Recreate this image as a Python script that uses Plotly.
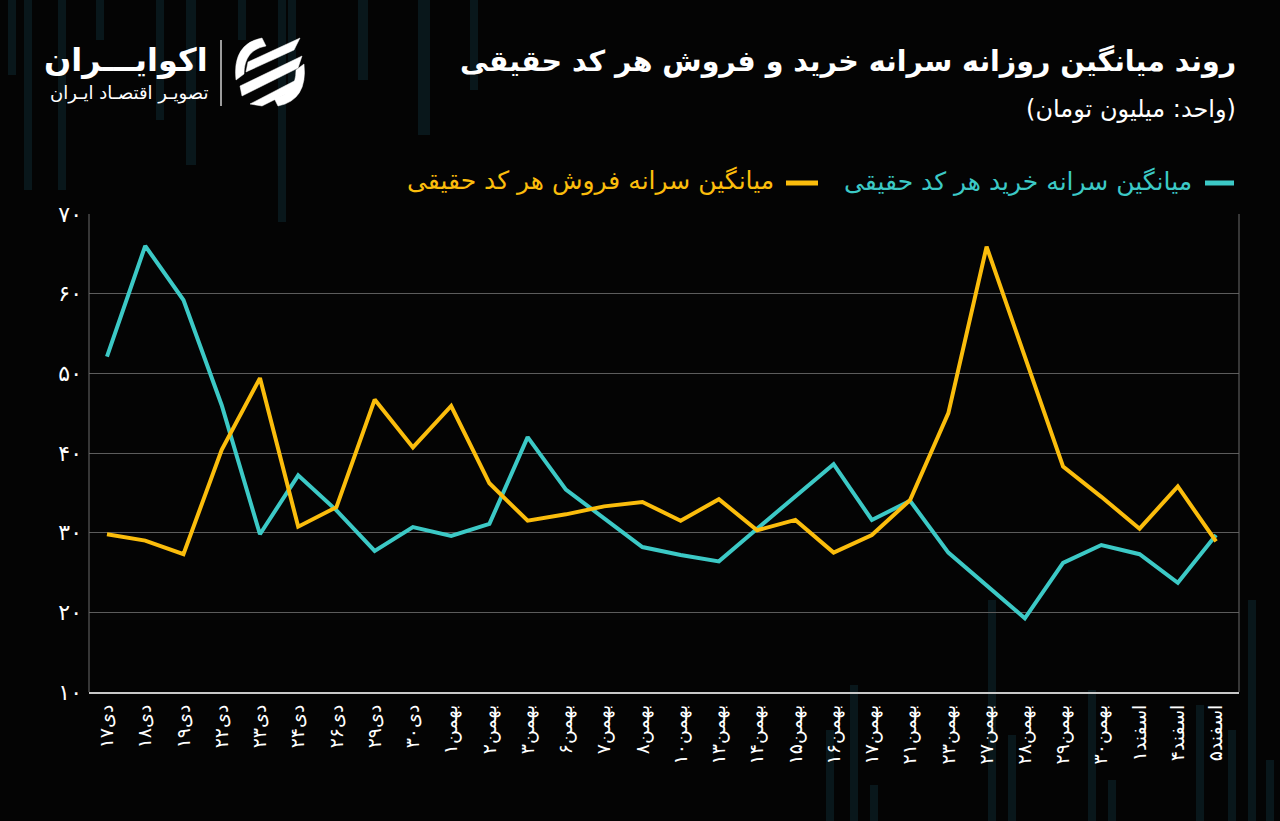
import plotly.graph_objects as go

# ---------------- data ----------------
categories = [
    "دی۱۷", "دی۱۸", "دی۱۹", "دی۲۲", "دی۲۳", "دی۲۴", "دی۲۶", "دی۲۹", "دی۳۰",
    "بهمن۱", "بهمن۲", "بهمن۳", "بهمن۶", "بهمن۷", "بهمن۸", "بهمن۱۰", "بهمن۱۳",
    "بهمن۱۴", "بهمن۱۵", "بهمن۱۶", "بهمن۱۷", "بهمن۲۱", "بهمن۲۳", "بهمن۲۷",
    "بهمن۲۸", "بهمن۲۹", "بهمن۳۰", "اسفند۱", "اسفند۴", "اسفند۵",
]
buy_avg = [
    52.1, 66.0, 59.2, 46.0, 29.8, 37.2, 32.8, 27.7, 30.7, 29.6,
    31.1, 42.0, 35.4, 31.8, 28.2, 27.2, 26.4, 30.5, 34.5, 38.6,
    31.6, 34.0, 27.5, 23.4, 19.25, 26.2, 28.45, 27.3, 23.7, 29.7,
]
sell_avg = [
    29.8, 29.0, 27.3, 40.4, 49.4, 30.75, 33.2, 46.7, 40.7, 45.9,
    36.2, 31.5, 32.3, 33.3, 33.85, 31.5, 34.2, 30.3, 31.6, 27.5,
    29.7, 34.1, 45.0, 65.9, 52.1, 38.3, 34.5, 30.5, 35.8, 28.9,
]
y_tick_values = [10, 20, 30, 40, 50, 60, 70]
y_tick_labels = ["۱۰", "۲۰", "۳۰", "۴۰", "۵۰", "۶۰", "۷۰"]

title_text = "روند میانگین روزانه سرانه خرید و فروش هر کد حقیقی"
subtitle_text = "(واحد: میلیون تومان)"
buy_name = "میانگین سرانه خرید هر کد حقیقی"
sell_name = "میانگین سرانه فروش هر کد حقیقی"
brand_name = "اکوایـــران"
brand_sub = "تصویـر اقتصـاد ایـران"

# ---------------- styling ----------------
BG = "#040404"
CYAN = "#3CC9C6"
YELLOW = "#FBBD0C"
FONT = "DejaVu Sans"

W, H = 1280, 821
L, R, T, B = 89, 1239, 214, 692


def px(x):
    return (x - L) / (R - L)


def py(y):
    return (B - y) / (B - T)


fig = go.Figure()
fig.add_trace(go.Scatter(x=categories, y=buy_avg, mode="lines", name=buy_name,
                         line=dict(color=CYAN, width=4), showlegend=False))
fig.add_trace(go.Scatter(x=categories, y=sell_avg, mode="lines", name=sell_name,
                         line=dict(color=YELLOW, width=4), showlegend=False))

shapes = []
# decorative faint background bars
deco_top = [(8, 16, 75), (24, 32, 190), (58, 66, 190), (96, 104, 40), (156, 164, 120),
            (186, 196, 165), (238, 246, 40), (278, 286, 222), (288, 296, 95),
            (358, 368, 80), (418, 430, 135), (470, 478, 90)]
for x0, x1, y1 in deco_top:
    shapes.append(dict(type="rect", xref="paper", yref="paper", x0=px(x0), x1=px(x1),
                       y0=py(y1), y1=py(0), fillcolor="#09171b", line_width=0, layer="below"))
deco_bot = [(826, 834, 730), (850, 858, 685), (870, 878, 785), (988, 996, 600),
            (1008, 1016, 735), (1088, 1096, 690), (1108, 1116, 780), (1196, 1204, 705),
            (1228, 1236, 730), (1248, 1256, 600), (1266, 1274, 760)]
for x0, x1, y0 in deco_bot:
    shapes.append(dict(type="rect", xref="paper", yref="paper", x0=px(x0), x1=px(x1),
                       y0=py(821), y1=py(y0), fillcolor="#09171b", line_width=0, layer="below"))

# plot frame (left & right borders)
shapes.append(dict(type="line", xref="paper", yref="paper", x0=0, x1=0, y0=0, y1=1,
                   line=dict(color="#6a6a6a", width=1)))
shapes.append(dict(type="line", xref="paper", yref="paper", x0=1, x1=1, y0=0, y1=1,
                   line=dict(color="#6a6a6a", width=1)))

# legend line samples
shapes.append(dict(type="line", xref="paper", yref="paper", x0=px(1205), x1=px(1234),
                   y0=py(183), y1=py(183), line=dict(color=CYAN, width=5)))
shapes.append(dict(type="line", xref="paper", yref="paper", x0=px(786), x1=px(818),
                   y0=py(183), y1=py(183), line=dict(color=YELLOW, width=5)))

# logo separator
shapes.append(dict(type="line", xref="paper", yref="paper", x0=px(221), x1=px(221),
                   y0=py(40), y1=py(106), line=dict(color="#d0d0d0", width=1.5)))


def P(x, y):
    return f"{px(x):.5f},{py(y):.5f}"


# logo icon (approximation: circle arcs + diagonal bands)
icon_paths = [
    f"M {P(262, 38)} Q {P(232, 44)} {P(236, 80)} L {P(244, 74)} Q {P(244, 50)} {P(266, 46)} Z",
    f"M {P(278, 106)} Q {P(308, 100)} {P(304, 64)} L {P(296, 70)} Q {P(296, 94)} {P(274, 98)} Z",
    f"M {P(248, 62)} L {P(300, 38)} L {P(294, 50)} L {P(246, 72)} Z",
    f"M {P(240, 86)} L {P(302, 56)} L {P(298, 68)} L {P(242, 96)} Z",
    f"M {P(250, 104)} L {P(300, 78)} L {P(290, 92)} L {P(262, 106)} Z",
]
for pth in icon_paths:
    shapes.append(dict(type="path", xref="paper", yref="paper", path=pth,
                       fillcolor="white", line=dict(color="white", width=0.5)))

annotations = [
    dict(text=f"<b>{title_text}</b>", x=px(1238), y=py(61), xref="paper", yref="paper",
         xanchor="right", yanchor="middle", showarrow=False,
         font=dict(family=FONT, size=28.5, color="white")),
    dict(text=subtitle_text, x=px(1238), y=py(109), xref="paper", yref="paper",
         xanchor="right", yanchor="middle", showarrow=False,
         font=dict(family=FONT, size=24, color="white")),
    dict(text=buy_name, x=px(1194), y=py(181), xref="paper", yref="paper",
         xanchor="right", yanchor="middle", showarrow=False,
         font=dict(family=FONT, size=25, color=CYAN)),
    dict(text=sell_name, x=px(776), y=py(181), xref="paper", yref="paper",
         xanchor="right", yanchor="middle", showarrow=False,
         font=dict(family=FONT, size=25, color=YELLOW)),
    dict(text=f"<b>{brand_name}</b>", x=px(210), y=py(60), xref="paper", yref="paper",
         xanchor="right", yanchor="middle", showarrow=False,
         font=dict(family=FONT, size=32, color="white")),
    dict(text=brand_sub, x=px(210), y=py(93), xref="paper", yref="paper",
         xanchor="right", yanchor="middle", showarrow=False,
         font=dict(family=FONT, size=18, color="white")),
]

fig.update_layout(
    width=W, height=H,
    margin=dict(l=L, r=W - R, t=T, b=H - B, pad=0),
    paper_bgcolor=BG, plot_bgcolor=BG,
    font=dict(family=FONT, color="white"),
    shapes=shapes, annotations=annotations,
    showlegend=False,
)
fig.update_xaxes(
    type="category", range=[-0.47, 29.6],
    showgrid=False, zeroline=False,
    showline=True, linecolor="#c8c8c8", linewidth=2,
    tickangle=-90, tickfont=dict(family=FONT, size=19, color="white"),
    ticks="outside", ticklen=3, tickcolor=BG,
)
fig.update_yaxes(
    range=[10, 70], tickvals=y_tick_values, ticktext=y_tick_labels,
    showgrid=True, gridcolor="#5c5c5c", gridwidth=1,
    zeroline=False, showline=False,
    tickfont=dict(family=FONT, size=22, color="white"),
    ticks="", ticklabelstandoff=6,
)

fig.write_html("out.html")
